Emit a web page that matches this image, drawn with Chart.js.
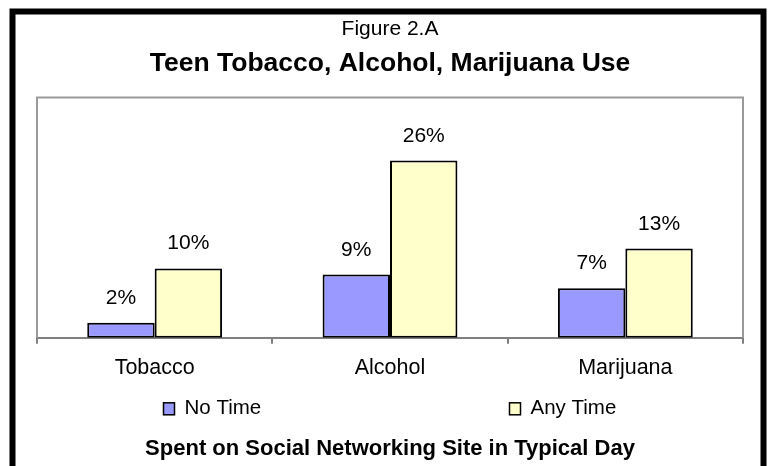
<!DOCTYPE html>
<html>
<head>
<meta charset="utf-8">
<script src="https://cdn.jsdelivr.net/npm/chart.js@4"></script>
<style>
  html, body { margin: 0; padding: 0; background: #fff; }
  #wrap { width: 770px; height: 466px; }
</style>
</head>
<body>
<div id="wrap"><canvas id="myChart" width="770" height="466"></canvas></div>
<script>
const categories = ['Tobacco', 'Alcohol', 'Marijuana'];
const seriesNames = ['No Time', 'Any Time'];
const noTime = [2.2, 9.2, 7.2];
const anyTime = [10.1, 25.8, 13.0];
const yMax = 35;

const FONT = 'Liberation Sans, Arial, sans-serif';

// black frame round the whole figure
const framePlugin = {
    id: 'frame',
    beforeDraw(chart) {
        const ctx = chart.ctx;
        ctx.save();
        ctx.fillStyle = '#fff';
        ctx.fillRect(0, 0, chart.width, chart.height);
        ctx.strokeStyle = '#000';
        ctx.lineWidth = 6;
        ctx.strokeRect(12.5, 11.5, 751, 480);
        ctx.restore();
    }
};

// gray border on left, top and right of the plot area
const plotBorder = {
    id: 'plotBorder',
    beforeDatasetsDraw(chart) {
        const a = chart.chartArea;
        const ctx = chart.ctx;
        ctx.save();
        ctx.strokeStyle = '#9a9a9a';
        ctx.lineWidth = 2;
        ctx.beginPath();
        ctx.moveTo(a.left, a.bottom);
        ctx.lineTo(a.left, a.top);
        ctx.lineTo(a.right, a.top);
        ctx.lineTo(a.right, a.bottom);
        ctx.stroke();
        ctx.restore();
    }
};

// percent labels above each bar
const valueLabels = {
    id: 'valueLabels',
    afterDatasetsDraw(chart) {
        const ctx = chart.ctx;
        ctx.save();
        ctx.font = '21px ' + FONT;
        ctx.fillStyle = '#000';
        ctx.textAlign = 'center';
        ctx.textBaseline = 'alphabetic';
        chart.data.datasets.forEach((ds, i) => {
            chart.getDatasetMeta(i).data.forEach((bar, j) => {
                ctx.fillText(Math.round(ds.data[j]) + '%', bar.x, bar.y - 19);
            });
        });
        ctx.restore();
    }
};

// legend spread out between the tick labels and the axis title
const spreadLegend = {
    id: 'spreadLegend',
    afterDraw(chart) {
        const a = chart.chartArea;
        const ctx = chart.ctx;
        const w = a.right - a.left;
        const y = a.bottom + 71;
        const spots = [0.179, 0.668];
        ctx.save();
        ctx.font = '20.5px ' + FONT;
        ctx.textBaseline = 'middle';
        ctx.textAlign = 'left';
        chart.data.datasets.forEach((ds, i) => {
            const x = Math.round(a.left + w * spots[i]) + 0.5;
            ctx.fillStyle = ds.backgroundColor;
            ctx.fillRect(x, y - 6, 11, 12);
            ctx.strokeStyle = '#000';
            ctx.lineWidth = 1.5;
            ctx.strokeRect(x, y - 6, 11, 12);
            ctx.fillStyle = '#000';
            ctx.fillText(ds.label, x + 21, y);
        });
        ctx.restore();
    }
};

const config = {
    type: 'bar',
    data: {
        labels: categories,
        datasets: [
            {
                label: seriesNames[0],
                data: noTime,
                backgroundColor: '#9999FF',
                borderColor: '#000',
                borderWidth: 2,
                borderSkipped: false
            },
            {
                label: seriesNames[1],
                data: anyTime,
                backgroundColor: '#FFFFCC',
                borderColor: '#000',
                borderWidth: 2,
                borderSkipped: false
            }
        ]
    },
    options: {
        responsive: false,
        animation: false,
        categoryPercentage: 0.573,
        barPercentage: 1,
        layout: {
            padding: { left: 37, right: 27, top: 0, bottom: 0 }
        },
        plugins: {
            legend: { display: false },
            tooltip: { enabled: false },
            title: {
                display: true,
                text: 'Figure 2.A',
                color: '#000',
                font: { family: FONT, size: 21, weight: 'normal' },
                padding: { top: 17, bottom: 0 }
            },
            subtitle: {
                display: true,
                text: 'Teen Tobacco, Alcohol, Marijuana Use',
                color: '#000',
                font: { family: FONT, size: 26.5, weight: 'bold' },
                padding: { top: 6, bottom: 17.4 }
            }
        },
        scales: {
            x: {
                grid: {
                    drawOnChartArea: false,
                    drawTicks: true,
                    tickLength: 6,
                    color: '#808080',
                    lineWidth: 2
                },
                border: { display: true, color: '#808080', width: 2 },
                ticks: {
                    color: '#000',
                    padding: 11,
                    font: { family: FONT, size: 21.5 }
                },
                title: {
                    display: true,
                    text: 'Spent on Social Networking Site in Typical Day',
                    color: '#000',
                    font: { family: FONT, size: 22, weight: 'bold' },
                    padding: { top: 44, bottom: 4 }
                }
            },
            y: {
                display: false,
                min: 0,
                max: yMax
            }
        }
    },
    plugins: [framePlugin, plotBorder, valueLabels, spreadLegend]
};

window.onload = function() {
    const ctx = document.getElementById('myChart').getContext('2d');
    new Chart(ctx, config);
};
</script>
</body>
</html>
